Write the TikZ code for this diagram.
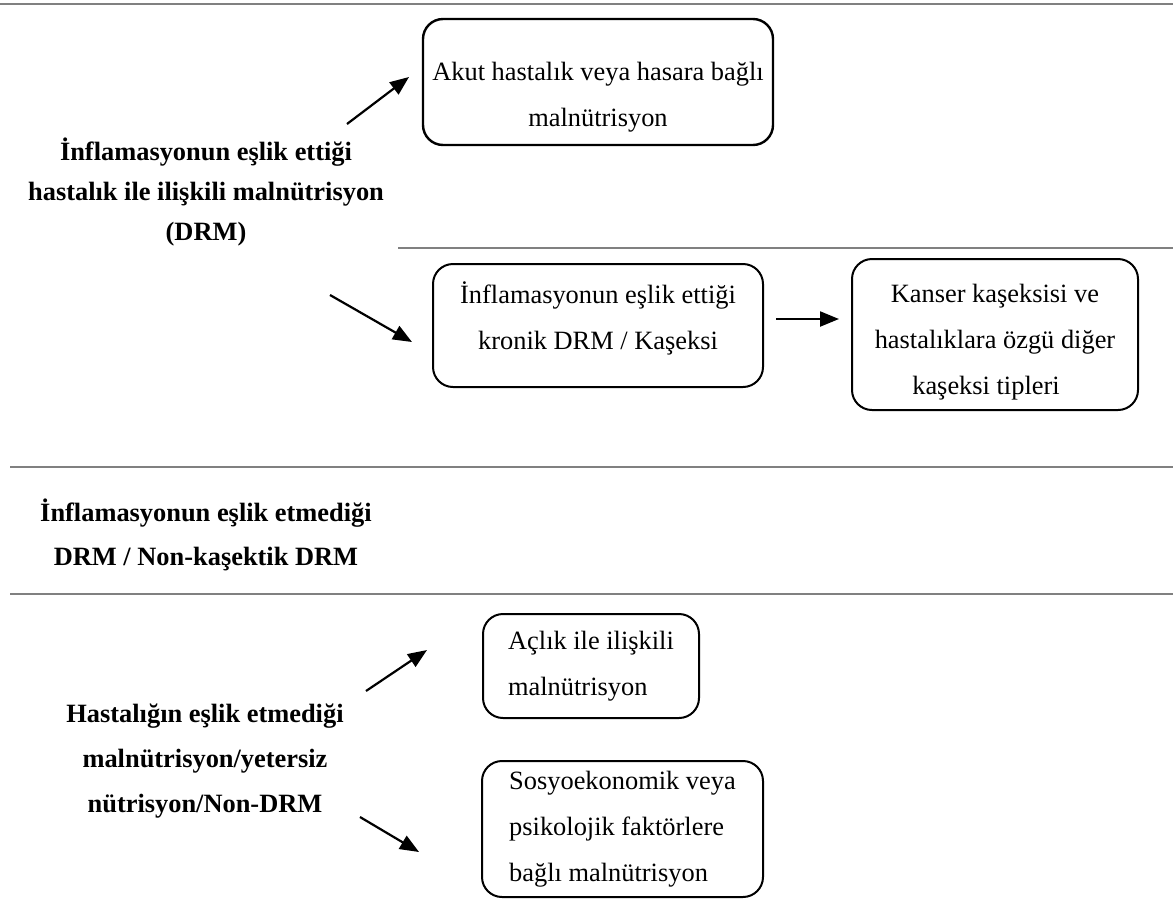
\documentclass[tikz,border=0pt]{standalone}
\usepackage{fontspec}
\setmainfont{Liberation Serif}
\usetikzlibrary{arrows.meta}

\definecolor{rulegray}{RGB}{128,128,128}

\tikzset{
  card/.style={draw, line width=1pt, rounded corners=10pt, inner sep=0pt,
    font=\fontsize{13.2}{23}\selectfont},
  head/.style={align=center, font=\fontsize{13.2}{20}\selectfont\bfseries},
  arr/.style={-{Triangle[length=9.5pt,width=7.5pt]}, line width=1.1pt},
  sepline/.style={rulegray, line width=1pt}
}

\begin{document}
\begin{tikzpicture}[x=0.5pt,y=-0.5pt]
\useasboundingbox (0,0) rectangle (1173,911);

%lines
\draw[sepline] (0,4) -- (1173,4);
\draw[sepline] (398,248) -- (1173,248);
\foreach \y in {467,594}
  \draw[sepline] (10,\y) -- (1173,\y);

%headings
\node[head] (drm) at (206,192) {İnflamasyonun eşlik ettiği\\hastalık ile ilişkili malnütrisyon\\(DRM)};
\node[head, font=\fontsize{13.2}{22}\selectfont\bfseries] (nokas) at (206,535) {İnflamasyonun eşlik etmediği\\DRM / Non-kaşektik DRM};
\node[head, font=\fontsize{13.2}{22.5}\selectfont\bfseries] (nondrm) at (205,761) {Hastalığın eşlik etmediği\\malnütrisyon/yetersiz\\nütrisyon/Non-DRM};

%boxes
\node[card, line width=1.2pt, minimum width=175pt, minimum height=63pt, align=center] (akut) at (598,82)
  {\rule{0pt}{24pt}Akut hastalık veya hasara bağlı\\malnütrisyon};
\node[card, minimum width=165pt, minimum height=61.5pt, align=center] (kronik) at (598,325.5)
  {İnflamasyonun eşlik ettiği\\kronik DRM / Kaşeksi\rule[-9.5pt]{0pt}{9.5pt}};
\node[card, minimum width=143pt, minimum height=75.5pt, align=center] (kaseksi) at (995,334.5)
  {\rule{0pt}{17pt}Kanser kaşeksisi ve\\hastalıklara özgü diğer\hspace*{9pt}\\kaşeksi tipleri\hspace*{9pt}};
\node[card, minimum width=108pt, minimum height=52pt, align=left] (aclik) at (591,666)
  {Açlık ile ilişkili\\malnütrisyon};
\node[card, minimum width=140.5pt, minimum height=68pt, align=left] (sosyo) at (622.5,829)
  {Sosyoekonomik veya\\psikolojik faktörlere\\bağlı malnütrisyon};

%arrows
\coordinate (drm-up) at (347,124);
\coordinate (akut-in) at (409,77);
\coordinate (drm-down) at (330,295);
\coordinate (kronik-in) at (412,342);
\coordinate (nondrm-up) at (366,691);
\coordinate (aclik-in) at (427,650);
\coordinate (nondrm-down) at (360,817);
\coordinate (sosyo-in) at (419,852);
\coordinate (kronik-out) at ([yshift=3.25pt]kronik.east);

\draw[arr] (drm-up) -- (akut-in);
\draw[arr] (drm-down) -- (kronik-in);
\draw[arr] (nondrm-up) -- (aclik-in);
\draw[arr] (nondrm-down) -- (sosyo-in);
\draw[arr, shorten <=6pt, shorten >=6pt] (kronik-out) -- (kronik-out -| kaseksi.west);
\end{tikzpicture}
\end{document}
